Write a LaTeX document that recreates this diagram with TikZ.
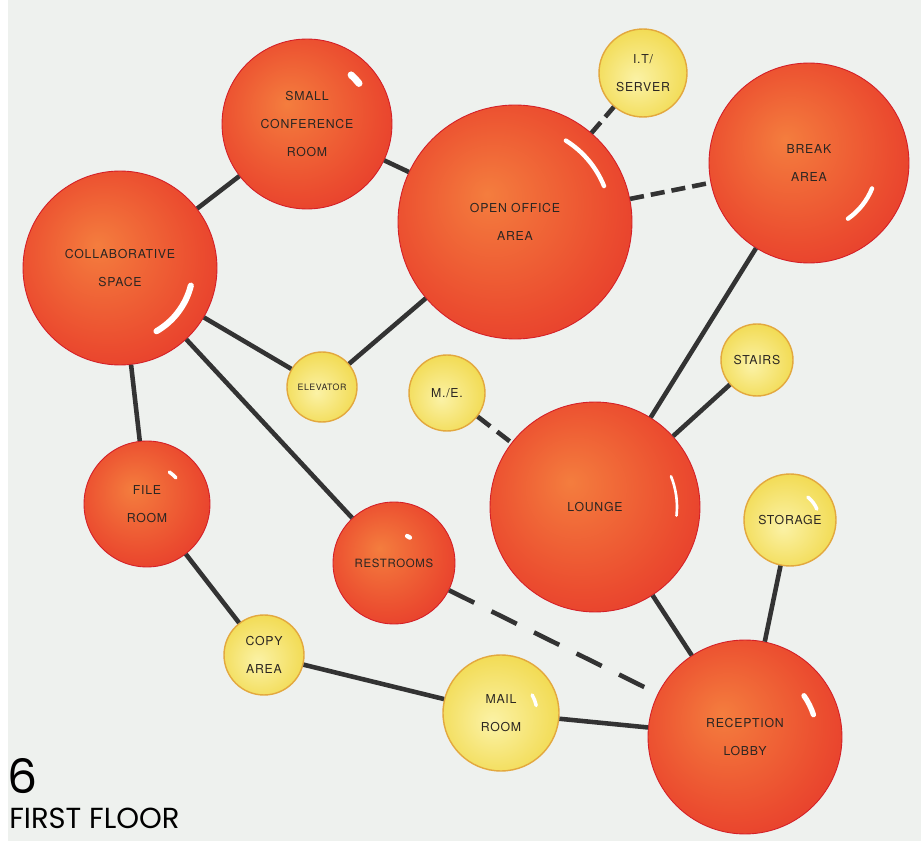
\documentclass[tikz,border=0pt]{standalone}
\usepackage{fontspec}
\setsansfont[LetterSpace=6]{TeX Gyre Heros}
\newfontfamily\titlefont{Poppins}
\usetikzlibrary{positioning}
\definecolor{paper}{HTML}{EEF1EE}
\definecolor{ink}{HTML}{2B2622}
\definecolor{wire}{HTML}{333333}
\definecolor{redout}{HTML}{E0262A}
\definecolor{redmid}{HTML}{EB4C2F}
\definecolor{redin}{HTML}{F47D3E}
\definecolor{redrim}{HTML}{D41F27}
\definecolor{yelout}{HTML}{F1D94C}
\definecolor{yelin}{HTML}{FBF2A6}
\definecolor{yelrim}{HTML}{E3A83E}
\pgfdeclareradialshading{ballred}{\pgfpoint{-6bp}{6bp}}{color(0bp)=(redin); color(24bp)=(redmid); color(44bp)=(redout); color(50bp)=(redout)}
\pgfdeclareradialshading{ballyellow}{\pgfpoint{-4bp}{-4bp}}{color(0bp)=(yelin); color(30bp)=(yelout); color(50bp)=(yelout)}

\begin{document}
\begin{tikzpicture}[
    x=0.02cm, y=-0.02cm,
    font=\sffamily\fontsize{7}{16}\selectfont,
    room/.style={circle, inner sep=0pt, align=center, text=ink, shading=ballred, draw=redrim, line width=0.5pt},
    aux/.style={circle, inner sep=0pt, align=center, text=ink, shading=ballyellow, draw=yelrim, line width=0.8pt},
    link/.style={draw=wire, line width=2.6pt},
    dlink/.style={link, dash pattern=on 8pt off 4pt},
    glint/.style={white, line width=2.5pt, line cap=round},
  ]
    \useasboundingbox (0,0) rectangle (921,841);
    \clip (0,0) rectangle (921,841);
    \fill[white] (0,0) rectangle (921,841);
    \fill[paper] (8,0) rectangle (921,841);

    % large rooms
    \node[room, minimum size=3.4cm] (smallconf) at (307,124) {SMALL\\CONFERENCE\\ROOM};
    \node[room, minimum size=3.88cm] (collab) at (120,268) {COLLABORATIVE\\SPACE};
    \node[room, minimum size=4.68cm] (openoffice) at (515,222) {OPEN OFFICE\\AREA};
    \node[room, minimum size=4.0cm] (breakarea) at (809,163) {BREAK\\AREA};
    \node[room, minimum size=4.2cm] (lounge) at (595,507) {LOUNGE};
    \node[room, minimum size=2.52cm] (fileroom) at (147,504) {FILE\\ROOM};
    \node[room, minimum size=2.44cm, font=\sffamily\fontsize{6.5}{16}\selectfont] (restrooms) at (394,563) {RESTROOMS};
    \node[room, minimum size=3.88cm] (reception) at (745,737) {RECEPTION\\LOBBY};

    % support spaces
    \node[aux, minimum size=1.76cm] (itserver) at (643,73) {I.T/\\SERVER};
    \node[aux, minimum size=1.4cm, font=\sffamily\fontsize{5}{8}\selectfont] (elevator) at (322,387) {ELEVATOR};
    \node[aux, minimum size=1.52cm] (mecheng) at (447,393) {M./E.};
    \node[aux, minimum size=1.44cm] (stairs) at (757,360) {STAIRS};
    \node[aux, minimum size=1.84cm] (storage) at (790,520) {STORAGE};
    \node[aux, minimum size=1.6cm] (copyarea) at (264,655) {COPY\\AREA};
    \node[aux, minimum size=2.32cm] (mailroom) at (501,713) {MAIL\\ROOM};

    % glints
    \draw[glint, line width=4pt] (smallconf.center) ++(48:1.32cm) arc[start angle=48, end angle=38, radius=1.32cm];
    \draw[glint, line width=3.5pt] (collab.center) ++(-14:1.46cm) arc[start angle=-14, end angle=-60, radius=1.46cm];
    \draw[glint] (openoffice.center) ++(58:1.92cm) arc[start angle=58, end angle=22, radius=1.92cm];
    \draw[glint] (breakarea.center) ++(-22:1.36cm) arc[start angle=-22, end angle=-55, radius=1.36cm];
    \draw[glint, line width=1.5pt] (lounge.center) ++(22:1.64cm) arc[start angle=22, end angle=-6, radius=1.64cm];
    \draw[glint, line width=3pt] (reception.center) ++(35:1.44cm) arc[start angle=35, end angle=18, radius=1.44cm];
    \draw[glint, line width=2pt] (fileroom.center) ++(55:0.78cm) arc[start angle=55, end angle=42, radius=0.78cm];
    \draw[glint, line width=2.5pt] (restrooms.center) ++(64:0.6cm) arc[start angle=64, end angle=58, radius=0.6cm];
    \draw[glint, line width=2pt] (storage.center) ++(52:0.58cm) arc[start angle=52, end angle=22, radius=0.58cm];
    \draw[glint, line width=2pt] (mailroom.center) ++(30:0.72cm) arc[start angle=30, end angle=12, radius=0.72cm];

    % adjacencies
    \draw[link] (smallconf) -- (collab);
    \draw[link] (smallconf) -- (openoffice);
    \draw[dlink] (openoffice) -- (itserver);
    \draw[dlink] (openoffice) -- (breakarea);
    \draw[link] (openoffice) -- (elevator);
    \draw[link] (collab) -- (elevator);
    \draw[link] (collab) -- (fileroom);
    \draw[link] (collab) -- (restrooms);
    \draw[link] (breakarea) -- (lounge);
    \draw[link] (stairs) -- (lounge);
    \draw[dlink, dash pattern=on 9pt off 5pt] (mecheng) -- (lounge);
    \draw[link] (lounge) -- (reception);
    \draw[dlink, dash pattern=on 16pt off 11pt] (restrooms) -- (reception);
    \draw[link] (storage) -- (reception);
    \draw[link] (fileroom) -- (copyarea);
    \draw[link] (copyarea) -- (mailroom);
    \draw[link] (mailroom) -- (reception);

    % caption
    \node[anchor=south west, inner sep=0pt, font=\titlefont\fontsize{27}{27}\selectfont] (pagenum) at (7,794) {6};
    \node[anchor=north west, inner sep=0pt, font=\titlefont\fontsize{16.5}{16.5}\selectfont] (floorname) at (9,808) {FIRST FLOOR};
  \end{tikzpicture}
\end{document}
